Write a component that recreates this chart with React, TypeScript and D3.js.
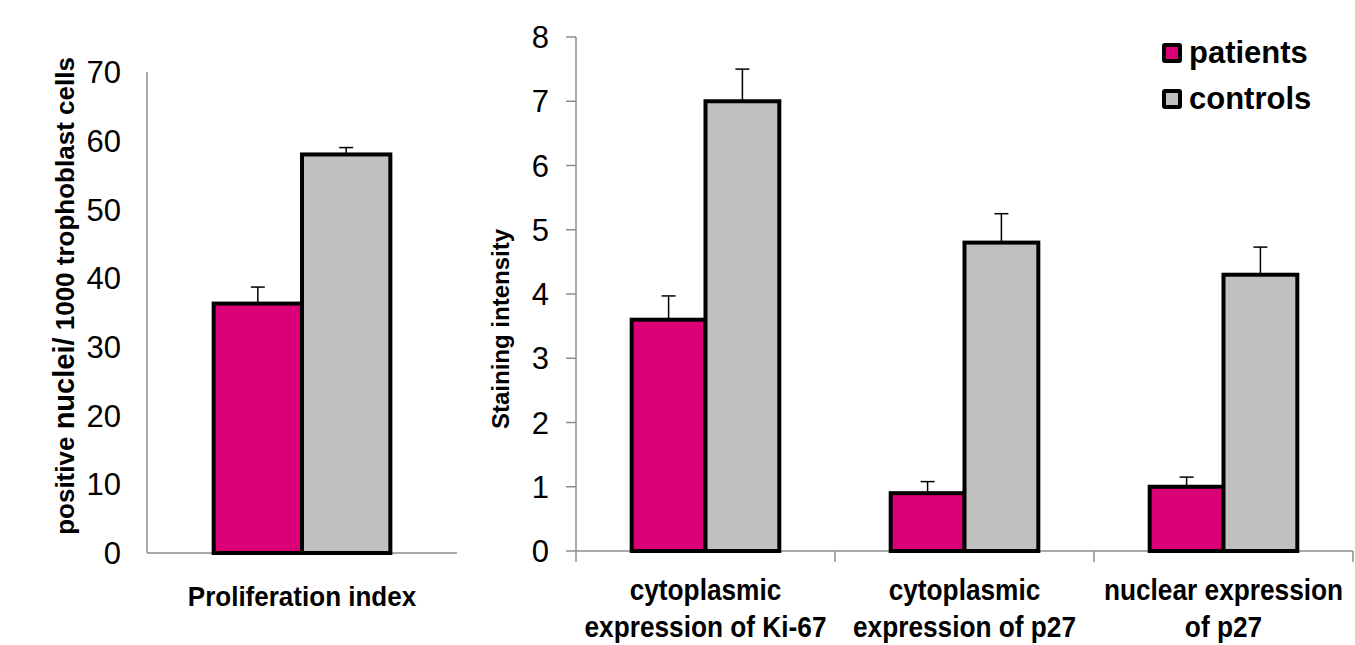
import React from "react";
import * as d3 from "d3";

const seriesNames = ["patients", "controls"];
const seriesColors = ["#dc0078", "#c0c0c0"];

const leftCategories = ["Proliferation index"];
const leftPatients = [36.3];
const leftControls = [58];
const leftPatientsErr = [2.4];
const leftControlsErr = [1.0];
const leftTicks = [0, 10, 20, 30, 40, 50, 60, 70];

const rightCategories = [
  ["cytoplasmic", "expression of Ki-67"],
  ["cytoplasmic", "expression of p27"],
  ["nuclear expression", "of p27"],
];
const rightPatients = [3.6, 0.9, 1.0];
const rightControls = [7.0, 4.8, 4.3];
const rightPatientsErr = [0.37, 0.18, 0.15];
const rightControlsErr = [0.5, 0.45, 0.43];
const rightTicks = [0, 1, 2, 3, 4, 5, 6, 7, 8];

const AXIS = "#8c8c8c";
const FONT = "'Liberation Sans', Arial, sans-serif";

function Bars({ x, y, cats, vals, errs }) {
  const inner = d3
    .scaleBand()
    .domain(seriesNames)
    .range([x.bandwidth() * 0.215, x.bandwidth() * 0.785]);
  return (
    <g>
      {cats.map((c, i) =>
        seriesNames.map((s, j) => {
          const v = vals[j][i];
          const e = errs[j][i];
          const x0 = (x(c) ?? 0) + (inner(s) ?? 0);
          const w = inner.bandwidth();
          const cx = x0 + w / 2;
          return (
            <g key={c + s}>
              <line x1={cx} x2={cx} y1={y(v)} y2={y(v + e)} stroke="#000" strokeWidth={1.5} />
              <line x1={cx - 7} x2={cx + 7} y1={y(v + e)} y2={y(v + e)} stroke="#000" strokeWidth={1.5} />
              <rect
                x={x0}
                y={y(v)}
                width={w}
                height={y(0) - y(v)}
                fill={seriesColors[j]}
                stroke="#000"
                strokeWidth={4}
              />
            </g>
          );
        })
      )}
    </g>
  );
}

export default function App() {
  const ly = d3.scaleLinear().domain([0, 70]).range([553, 72]);
  const lx = d3.scaleBand().domain(leftCategories).range([147, 457]);
  const ry = d3.scaleLinear().domain([0, 8]).range([551, 37]);
  const rKeys = rightCategories.map((c) => c.join(" "));
  const rx = d3.scaleBand().domain(rKeys).range([576, 1353]);

  return (
    <svg
      width={1355}
      height={645}
      style={{ position: "absolute", left: 0, top: 0, background: "#fff" }}
      fontFamily={FONT}
    >
      {/* LEFT CHART */}
      <line x1={147} x2={147} y1={ly(70)} y2={ly(0)} stroke={AXIS} strokeWidth={1.5} />
      <line x1={147} x2={457} y1={ly(0)} y2={ly(0)} stroke={AXIS} strokeWidth={1.5} />
      {leftTicks.map((t) => (
        <text key={t} x={121} y={ly(t)} dy="0.36em" textAnchor="end" fontSize={31} fill="#000">
          {t}
        </text>
      ))}
      <Bars
        x={lx}
        y={ly}
        cats={leftCategories}
        vals={[leftPatients, leftControls]}
        errs={[leftPatientsErr, leftControlsErr]}
      />
      {leftCategories.map((c) => (
        <g key={c} transform={`translate(${(lx(c) ?? 0) + lx.bandwidth() / 2},0) scale(0.93,1)`}>
          <text x={0} y={606} textAnchor="middle" fontSize={28} fontWeight="bold">
            {c}
          </text>
        </g>
      ))}
      <text
        transform={`translate(74,296) rotate(-90)`}
        textAnchor="middle"
        fontSize={26}
        fontWeight="bold"
      >
        positive <tspan fontSize={29}>nuclei/</tspan> 1000 trophoblast cells
      </text>

      {/* RIGHT CHART */}
      <line x1={576} x2={576} y1={ry(8)} y2={ry(0)} stroke={AXIS} strokeWidth={1.5} />
      <line x1={576} x2={1353} y1={ry(0)} y2={ry(0)} stroke={AXIS} strokeWidth={1.5} />
      {rightTicks.map((t) => (
        <g key={t}>
          <line x1={566} x2={576} y1={ry(t)} y2={ry(t)} stroke={AXIS} strokeWidth={1.5} />
          <text x={549} y={ry(t)} dy="0.36em" textAnchor="end" fontSize={31}>
            {t}
          </text>
        </g>
      ))}
      {[...rKeys.map((k) => rx(k) ?? 0), 576 + rx.step() * rKeys.length].map((xv, i) => (
        <line key={i} x1={xv} x2={xv} y1={ry(0)} y2={ry(0) + 11} stroke={AXIS} strokeWidth={1.5} />
      ))}
      <Bars
        x={rx}
        y={ry}
        cats={rKeys}
        vals={[rightPatients, rightControls]}
        errs={[rightPatientsErr, rightControlsErr]}
      />
      {rightCategories.map((lines, i) => {
        const cx = (rx(rKeys[i]) ?? 0) + rx.bandwidth() / 2;
        return (
          <g key={i} transform={`translate(${cx},0) scale(0.875,1)`}>
            <text textAnchor="middle" fontSize={30} fontWeight="bold">
              {lines.map((l, k) => (
                <tspan key={k} x={0} y={600 + k * 37}>
                  {l}
                </tspan>
              ))}
            </text>
          </g>
        );
      })}
      <text
        transform={`translate(509,329) rotate(-90)`}
        textAnchor="middle"
        fontSize={24}
        fontWeight="bold"
      >
        Staining intensity
      </text>

      {/* LEGEND */}
      {seriesNames.map((s, i) => (
        <g key={s} transform={`translate(1164,${45 + i * 46})`}>
          <rect x={0} y={0} width={16} height={16} fill={seriesColors[i]} stroke="#000" strokeWidth={4} rx={1} />
          <text x={25} y={18} fontSize={31} fontWeight="bold">
            {s}
          </text>
        </g>
      ))}
    </svg>
  );
}
